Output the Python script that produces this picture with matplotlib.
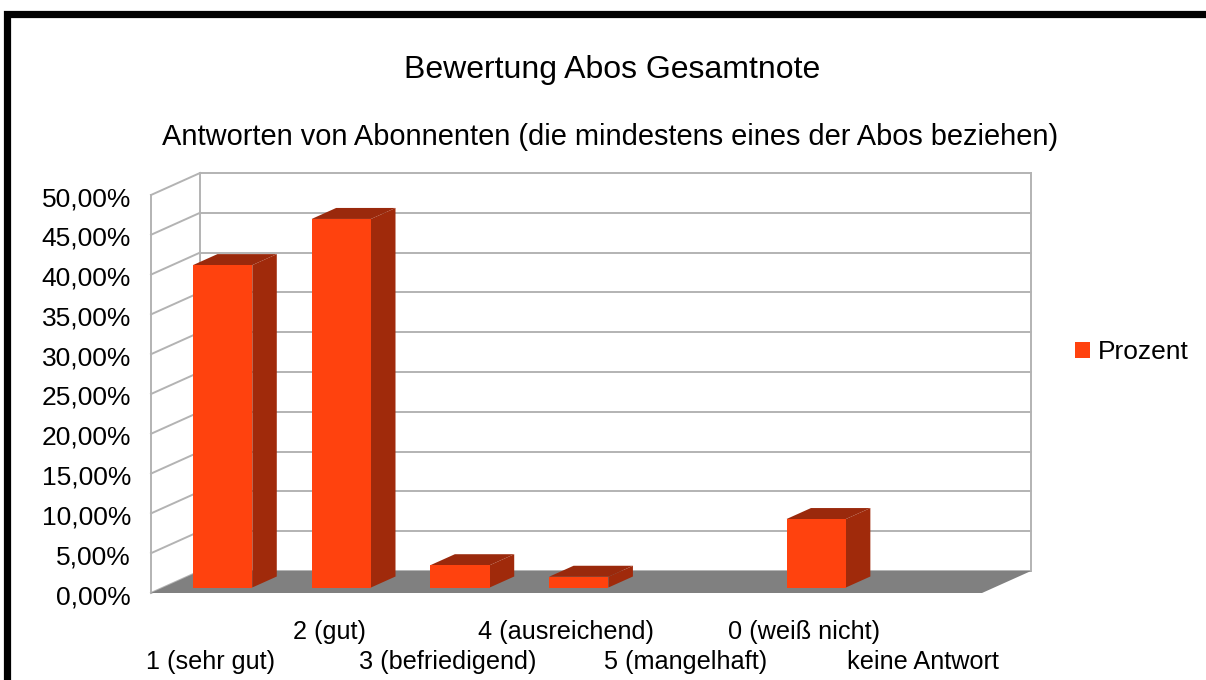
import matplotlib
matplotlib.use('Agg')
import matplotlib.pyplot as plt
from matplotlib.patches import Polygon, Rectangle, Patch
from matplotlib.transforms import blended_transform_factory

# ---------------- data ----------------
categories = ['1 (sehr gut)', '2 (gut)', '3 (befriedigend)', '4 (ausreichend)',
              '5 (mangelhaft)', '0 (weiß nicht)', 'keine Antwort']
values = [40.5, 46.3, 2.8, 1.35, 0.0, 8.6, 0.0]
series_name = 'Prozent'
y_ticks = [0, 5, 10, 15, 20, 25, 30, 35, 40, 45, 50]
y_tick_labels = [f"{v:.2f}".replace('.', ',') + '%' for v in y_ticks]
title = 'Bewertung Abos Gesamtnote'
subtitle = 'Antworten von Abonnenten (die mindestens eines der Abos beziehen)'

# ---------------- style ----------------
plt.rcParams['font.family'] = ['Liberation Sans', 'DejaVu Sans']
W, H = 1206, 680
FRONT = '#ff420e'
SIDE = '#a02a0b'
TOP = '#9a290c'
FLOOR = '#808080'
GRID = '#b3b3b3'

fig = plt.figure(figsize=(W / 100, H / 100), dpi=100)
fig.patch.set_facecolor('white')

# front plane of the 3D box
px_left, px_right, px_bottom, px_top = 151, 982, 593, 195
ax = fig.add_axes([px_left / W, 1 - px_bottom / H,
                   (px_right - px_left) / W, (px_bottom - px_top) / H])
n = len(categories)
ax.set_xlim(-0.5, n - 0.5)
ax.set_ylim(0, 50)
ax.axis('off')

px_per_cat = (px_right - px_left) / n
px_per_val = (px_bottom - px_top) / 50.0
DDX = 49 / px_per_cat      # depth shift in category units
DDY = 22 / px_per_val      # depth shift in value units


def P(x, v, d):
    return (x + d * DDX, v + d * DDY)


x0, x1 = -0.5, n - 0.5
vmax = y_ticks[-1]
lw = 1.4
# back wall grid
for v in y_ticks:
    a, b = P(x0, v, 1), P(x1, v, 1)
    ax.plot([a[0], b[0]], [a[1], b[1]], color=GRID, lw=lw, clip_on=False, zorder=1)
    # left wall slanted lines
    c, e = P(x0, v, 0), P(x0, v, 1)
    ax.plot([c[0], e[0]], [c[1], e[1]], color=GRID, lw=lw, clip_on=False, zorder=1)
for (xx, d) in [(x0, 1), (x1, 1), (x0, 0)]:
    a, b = P(xx, 0, d), P(xx, vmax, d)
    ax.plot([a[0], b[0]], [a[1], b[1]], color=GRID, lw=lw, clip_on=False, zorder=1)

# floor
floor = Polygon([P(x0, 0, 0), P(x1, 0, 0), P(x1, 0, 1), P(x0, 0, 1)],
                closed=True, facecolor=FLOOR, edgecolor='none', clip_on=False, zorder=2)
ax.add_patch(floor)

# bars
hw = 0.25
d1, d2 = 0.25, 0.75
for i, val in enumerate(values):
    if val <= 0:
        continue
    xl, xr = i - hw, i + hw
    side = Polygon([P(xr, 0, d1), P(xr, 0, d2), P(xr, val, d2), P(xr, val, d1)],
                   closed=True, facecolor=SIDE, edgecolor='none', clip_on=False, zorder=3)
    top = Polygon([P(xl, val, d1), P(xr, val, d1), P(xr, val, d2), P(xl, val, d2)],
                  closed=True, facecolor=TOP, edgecolor='none', clip_on=False, zorder=3)
    front = Polygon([P(xl, 0, d1), P(xr, 0, d1), P(xr, val, d1), P(xl, val, d1)],
                    closed=True, facecolor=FRONT, edgecolor='none', clip_on=False, zorder=4)
    ax.add_patch(side)
    ax.add_patch(top)
    ax.add_patch(front)

FS_Y = 19
FS_X = 18.2
# y tick labels
tr_y = blended_transform_factory(ax.transAxes, ax.transData)
lab_x = (131 - px_left) / (px_right - px_left)
shift = 4.0 / px_per_val
for v, lab in zip(y_ticks, y_tick_labels):
    ax.text(lab_x, v - shift, lab, transform=tr_y, ha='right', va='center', fontsize=FS_Y,
            color='black')

# category labels (staggered)
tr_x = ax.get_xaxis_transform()
row1 = (px_bottom - 632) / (px_bottom - px_top)
row2 = (px_bottom - 662) / (px_bottom - px_top)
for i, lab in enumerate(categories):
    ax.text(i, row1 if i % 2 == 1 else row2, lab, transform=tr_x, ha='center',
            va='center', fontsize=FS_X, color='black')

# titles
fig.text(612 / W, 1 - 70 / H, title, ha='center', va='center', fontsize=23, color='black')
fig.text(610 / W, 1 - 137 / H, subtitle, ha='center', va='center', fontsize=20.9,
         color='black')

# legend
fig.legend(handles=[Patch(facecolor=FRONT, edgecolor='none', label=series_name)],
           loc='center left', bbox_to_anchor=(1075 / W, 1 - 352 / H), frameon=False,
           fontsize=19, handlelength=0.57, handleheight=0.57, handletextpad=0.28,
           borderpad=0, borderaxespad=0)

# outer black frame (extends beyond right/bottom edge)
frame = Rectangle((7 / W, -0.1), 1.2, (1 - 13.5 / H) + 0.1, transform=fig.transFigure,
                  fill=False, edgecolor='black', linewidth=5.2, clip_on=False)
fig.patches.append(frame)

fig.savefig('out.png', dpi=100)
